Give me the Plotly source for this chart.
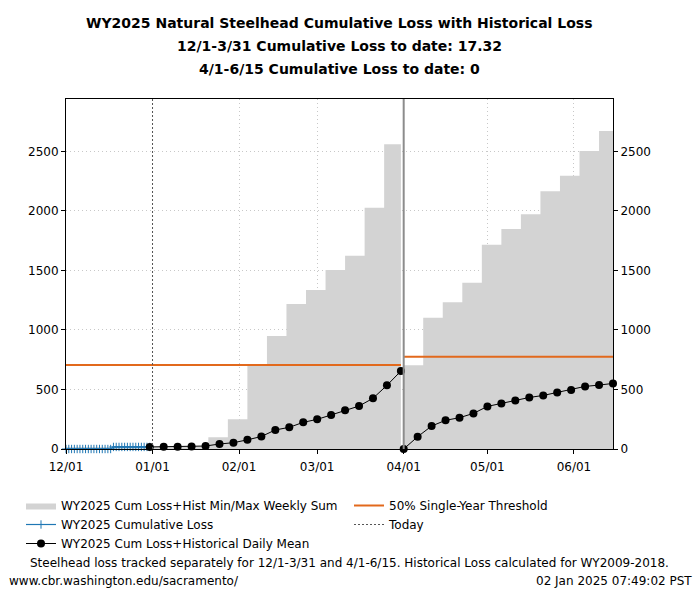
import plotly.graph_objects as go
import pandas as pd

# ---------------- data ----------------
X_START = "2024-12-01"
X_END = "2025-06-15"
PERIOD1_END = "2025-03-31"
PERIOD2_START = "2025-04-01"
TODAY = "2025-01-01"
Y_RANGE = [0, 2941]
Y_TICKS = [0, 500, 1000, 1500, 2000, 2500]
X_TICKS = ["2024-12-01", "2025-01-01", "2025-02-01", "2025-03-01",
           "2025-04-01", "2025-05-01", "2025-06-01"]

# Gray band (Cum Loss + Hist Min/Max Weekly Sum), weekly step values
band1_dates = ["2024-12-01", "2024-12-10", "2024-12-17", "2024-12-24", "2024-12-31",
               "2025-01-07", "2025-01-14", "2025-01-21", "2025-01-28", "2025-02-04",
               "2025-02-11", "2025-02-18", "2025-02-25", "2025-03-04", "2025-03-11",
               "2025-03-18", "2025-03-25"]
band1_vals = [17, 17, 18, 18, 19, 20, 24, 98, 250, 703, 950, 1218, 1336, 1504,
              1624, 2028, 2560]
band2_dates = ["2025-04-01", "2025-04-08", "2025-04-15", "2025-04-22", "2025-04-29",
               "2025-05-06", "2025-05-13", "2025-05-20", "2025-05-27", "2025-06-03",
               "2025-06-10"]
band2_vals = [703, 1103, 1233, 1397, 1717, 1849, 1972, 2165, 2296, 2504, 2672]

# WY2025 cumulative loss (daily)
cum_dates = list(pd.date_range("2024-12-01", "2024-12-31", freq="D"))
cum_vals = [0]*17 + [17.32]*14

# Cum loss + historical daily mean (every 5 days)
mean1_dates = list(pd.date_range("2024-12-31", "2025-03-31", freq="5D"))
mean1_vals = [17.32, 18, 19, 20, 25, 42, 53, 77, 105, 160, 182, 224, 249, 286,
              325, 361, 426, 535, 655]
mean2_dates = list(pd.date_range("2025-04-01", "2025-06-15", freq="5D"))
mean2_vals = [0, 103, 193, 241, 263, 299, 358, 383, 408, 433, 450, 475, 495, 526,
              537, 551]

# 50% single-year thresholds per period
thr_starts = [X_START, PERIOD2_START]
thr_ends = [PERIOD1_END, X_END]
thr_vals = [706, 775]

TITLE_LINES = ["WY2025 Natural Steelhead Cumulative Loss with Historical Loss",
               "12/1-3/31 Cumulative Loss to date: 17.32",
               "4/1-6/15 Cumulative Loss to date: 0"]
FOOTNOTE = ("Steelhead loss tracked separately for 12/1-3/31 and 4/1-6/15. "
            "Historical Loss calculated for WY2009-2018.")
URL = "www.cbr.washington.edu/sacramento/"
STAMP = "02 Jan 2025 07:49:02 PST"

GRAY = "#d3d3d3"
BLUE = "#1f77b4"
ORANGE = "#e2691c"
FONT = "DejaVu Sans"

# layout geometry (pixels)
W, H = 700, 600
L, R, T, B = 66, 87, 99, 151
PW, PH = W - L - R, H - T - B


def px_x(x):
    return (x - L) / PW


def px_y(y):
    return (H - B - y) / PH


fig = go.Figure()

# gray bands
fig.add_trace(go.Scatter(
    x=band1_dates + [PERIOD1_END], y=band1_vals + [band1_vals[-1]],
    mode="lines", line=dict(width=0, shape="hv"), fill="tozeroy", fillcolor=GRAY,
    name="WY2025 Cum Loss+Hist Min/Max Weekly Sum", legend="legend", legendrank=1,
    hoverinfo="skip"))
fig.add_trace(go.Scatter(
    x=band2_dates + [X_END], y=band2_vals + [band2_vals[-1]],
    mode="lines", line=dict(width=0, shape="hv"), fill="tozeroy", fillcolor=GRAY,
    showlegend=False, hoverinfo="skip"))

# thresholds
tx, ty = [], []
for s, e, v in zip(thr_starts, thr_ends, thr_vals):
    tx += [s, e, None]
    ty += [v, v, None]
fig.add_trace(go.Scatter(x=tx, y=ty, mode="lines", line=dict(color=ORANGE, width=2),
                         name="50% Single-Year Threshold", legend="legend2", legendrank=1))

# cumulative loss
fig.add_trace(go.Scatter(x=cum_dates, y=cum_vals, mode="lines+markers",
                         line=dict(color=BLUE, width=1.2),
                         marker=dict(symbol="cross-thin", size=6,
                                     line=dict(color=BLUE, width=1)),
                         name="WY2025 Cumulative Loss", legend="legend", legendrank=2,
                         cliponaxis=False))

# today (legend entry via shape)
fig.add_shape(type="line", xref="x", yref="paper", x0=TODAY, x1=TODAY, y0=0, y1=1,
              line=dict(color="#555555", width=1, dash="2px,2px"),
              name="Today", showlegend=True, legend="legend2", legendrank=2)

# separator
fig.add_shape(type="line", xref="x", yref="paper", x0=PERIOD2_START, x1=PERIOD2_START,
              y0=0, y1=1, line=dict(color="#8c8c8c", width=2))

# mean lines
fig.add_trace(go.Scatter(x=mean1_dates, y=mean1_vals, mode="lines+markers",
                         line=dict(color="black", width=1),
                         marker=dict(symbol="circle", size=8, color="black"),
                         name="WY2025 Cum Loss+Historical Daily Mean", legend="legend",
                         legendrank=3, cliponaxis=False))
fig.add_trace(go.Scatter(x=mean2_dates, y=mean2_vals, mode="lines+markers",
                         line=dict(color="black", width=1),
                         marker=dict(symbol="circle", size=8, color="black"),
                         showlegend=False, cliponaxis=False))

# invisible trace to realise right axis
fig.add_trace(go.Scatter(x=[X_START], y=[Y_RANGE[0]], yaxis="y2", mode="markers",
                         marker=dict(opacity=0), showlegend=False, hoverinfo="skip"))

axis_common = dict(showline=True, linecolor="black", linewidth=1, ticks="outside",
                   ticklen=4, tickcolor="black",
                   tickfont=dict(family=FONT, size=12, color="black"), zeroline=False)
grid = dict(showgrid=True, gridcolor="#c8c8c8", griddash="1px,3px", gridwidth=1)

annotations = []
for i, line in enumerate(TITLE_LINES):
    annotations.append(dict(text="<b>%s</b>" % line, xref="paper", yref="paper",
                            x=0.5, y=px_y(23 + 23 * i), xanchor="center", yanchor="middle",
                            showarrow=False, font=dict(family=FONT, size=14, color="black")))
annotations += [
    dict(text=FOOTNOTE, xref="paper", yref="paper", x=px_x(350), y=px_y(563),
         xanchor="center", yanchor="middle", showarrow=False,
         font=dict(family=FONT, size=12)),
    dict(text=URL, xref="paper", yref="paper", x=px_x(7), y=px_y(581),
         xanchor="left", yanchor="middle", showarrow=False,
         font=dict(family=FONT, size=12)),
    dict(text=STAMP, xref="paper", yref="paper", x=px_x(694), y=px_y(581),
         xanchor="right", yanchor="middle", showarrow=False,
         font=dict(family=FONT, size=12)),
]

legend_common = dict(orientation="v", xanchor="left", yanchor="top", itemwidth=30,
                     font=dict(family=FONT, size=12), tracegroupgap=0,
                     bgcolor="rgba(0,0,0,0)", traceorder="normal")

fig.update_layout(
    width=W, height=H,
    margin=dict(l=L, r=R, t=T, b=B, autoexpand=False),
    plot_bgcolor="white", paper_bgcolor="white",
    font=dict(family=FONT, size=12, color="black"),
    xaxis=dict(type="date", range=[X_START, X_END], tickvals=X_TICKS, tickformat="%m/%d",
               mirror=True, layer="above traces", ticklabelstandoff=3,
               **grid, **axis_common),
    yaxis=dict(range=Y_RANGE, tickvals=Y_TICKS, mirror=True, layer="above traces",
               **grid, **axis_common),
    yaxis2=dict(range=Y_RANGE, tickvals=Y_TICKS, overlaying="y", side="right",
                showgrid=False, **axis_common),
    legend=dict(x=px_x(21), y=px_y(491), **legend_common),
    legend2=dict(x=px_x(349), y=px_y(491), **legend_common),
    showlegend=True,
    annotations=annotations,
)

fig.write_html("out.html", config={"displayModeBar": False},
               post_script="document.body.style.margin='0';")
